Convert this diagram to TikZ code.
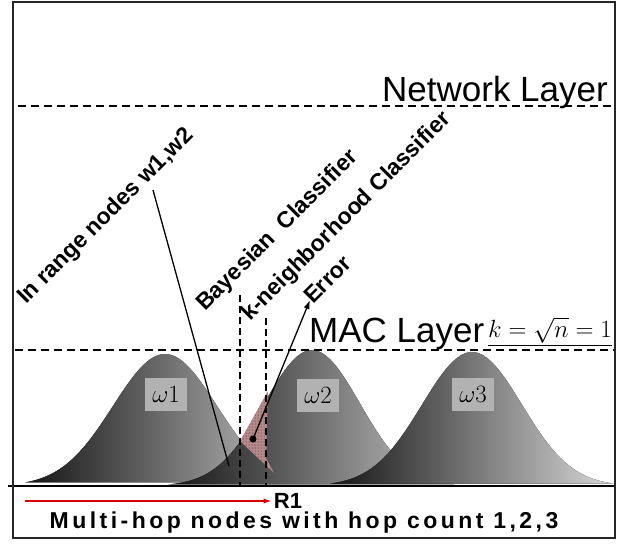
\documentclass[tikz,border=0pt]{standalone}
\usepackage{fontspec}
\setmainfont{Liberation Sans}
\usetikzlibrary{arrows.meta, positioning, calc, patterns}

\begin{document}
\begin{tikzpicture}[
        x=1pt, y=-1pt,
        capa/.style={
            inner sep=0pt,
            font=\fontsize{35}{37}\selectfont
        },
        clase/.style={
            rectangle,
            fill=black!30,
            inner sep=1pt,
            minimum width=42pt,
            minimum height=33pt,
            font=\fontsize{31}{33}\selectfont
        },
        etiqueta/.style={
            rotate=45,
            anchor=base west,
            inner sep=0pt,
            font=\bfseries\fontsize{23}{25}\selectfont
        },
        rayas/.style={line width=2pt, dash pattern=on 8pt off 5pt},
        guia/.style={line width=1.4pt, dash pattern=on 7pt off 4pt},
        flecha/.style={-{Latex[length=9pt, width=6pt]}, line width=1.3pt},
        flechaR/.style={-{Latex[length=8pt, width=5pt]}, line width=1.3pt, draw=red!85!black}
    ]
        \useasboundingbox (0,0) rectangle (632,544);

        % campanas
        \fill[left color=black!92, right color=black!22]
            plot[domain=25:305, samples=70] (\x, {486-132*exp(-0.5*((\x-165)/52)^2)}) -- cycle;
        \fill[left color=black!92, right color=black!22]
            plot[domain=168:455, samples=70] (\x, {486-136*exp(-0.5*((\x-312)/48)^2)}) -- cycle;
        \fill[left color=black!92, right color=black!15]
            plot[domain=330:614, samples=70] (\x, {486-134*exp(-0.5*((\x-472)/50)^2)}) -- cycle;

        \node[clase] (w1) at (166,394) {$\omega1$};
        \node[clase] (w2) at (318,395) {$\omega2$};
        \node[clase] (w3) at (473,394) {$\omega3$};

        % zona de error
        \fill[red!35!black!45] (240,441) -- (268,391) -- (266,458) -- (274,473) -- cycle;
        \fill[pattern=dots, pattern color=red!40!black] (240,441) -- (268,391) -- (266,458) -- (274,473) -- cycle;

        % capas
        \draw[rayas] (18,106) -- (614,106);
        \draw[rayas] (15,350) -- (614,350);
        \node[capa, anchor=base east] (red) at (608,101) {Network Layer};
        \node[capa, anchor=base west] (mac) at (309,342) {MAC Layer};
        \node[anchor=base east, inner sep=0pt, font=\fontsize{23}{25}\selectfont] (kval) at (612,337) {\underline{$k=\sqrt{n}=1$}};

        % clasificadores
        \node[etiqueta] (rango) at (26,305) {In range nodes w1,w2};
        \node[etiqueta] (bayes) at (205,312) {Bayesian\ \ Classifier};
        \node[etiqueta] (knn) at (250,322) {k-neighborhood Classifier};
        \node[etiqueta] (error) at (313,305) {Error};

        \coordinate (bayestop) at (240,295);
        \coordinate (bayesbot) at (240,486);
        \coordinate (knntop) at (266,318);
        \coordinate (knnbot) at (266,486);
        \draw[guia] (bayestop) -- (bayesbot);
        \draw[guia] (knntop) -- (knnbot);

        \coordinate (rangotop) at (153,190);
        \coordinate (rangobot) at (229,466);
        \draw[line width=1.3pt] (rangotop) -- (rangobot);

        \coordinate (errpt) at (253,439);
        \coordinate (errtip) at (310,300);
        \fill (errpt) circle (3.5);
        \draw[flecha] (errpt) -- (errtip);

        % eje y marco
        \draw[line width=2pt] (8,486) -- (615,486);
        \draw[line width=1.5pt, black!85] (13,2) rectangle (615,538);

        \node[font=\bfseries\fontsize{22}{24}\selectfont, inner sep=2pt] (r1) at (288,501) {R1};
        \coordinate (rini) at (25,501);
        \draw[flechaR] (rini) -- (r1.west);

        \node[font=\bfseries\fontsize{23}{25}\selectfont\addfontfeature{LetterSpace=15}] (pie) at (304,523) {Multi-hop nodes with hop count 1,2,3};
    \end{tikzpicture}
\end{document}
